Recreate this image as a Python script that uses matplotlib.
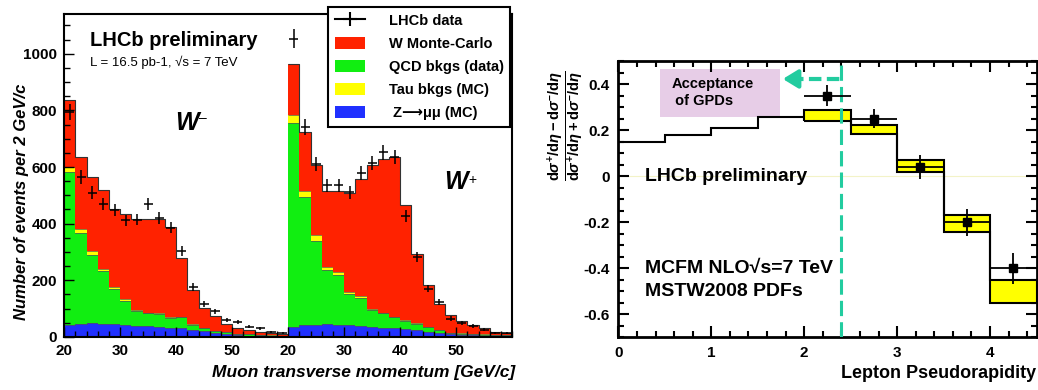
import numpy as np
import matplotlib
matplotlib.use("Agg")
import matplotlib.pyplot as plt
from matplotlib.patches import Rectangle, Patch
from matplotlib.lines import Line2D
from matplotlib.ticker import MultipleLocator, FuncFormatter

plt.rcParams['font.family'] = ['Liberation Sans', 'DejaVu Sans']
plt.rcParams['axes.unicode_minus'] = False
plt.rcParams['mathtext.fontset'] = 'custom'
plt.rcParams['mathtext.rm'] = 'Liberation Sans:bold'
plt.rcParams['mathtext.it'] = 'Liberation Sans:italic:bold'
plt.rcParams['mathtext.bf'] = 'Liberation Sans:bold'

# muon pT bins (GeV/c), 2 GeV wide, same for W- and W+
pt_edges = np.arange(20, 62, 2)

# W- stacked components (events per bin)
wm_z = [44, 46, 48, 47, 45, 42, 40, 38, 36, 33, 30, 25, 20, 15, 10, 7, 5, 4, 3, 2]
wm_qcd = [538, 322, 240, 186, 123, 84, 50, 45, 46, 35, 39, 18, 11, 5, 7, 4, 4, 3, 2, 2]
wm_tau = [18, 12, 14, 8, 8, 7, 4, 3, 3, 2, 2, 2, 2, 1, 1, 1, 1, 1, 1, 1]
wm_w = [237, 255, 262, 279, 277, 302, 324, 332, 333, 318, 208, 122, 71, 52, 27, 21, 14, 10, 8, 7]
wm_data = [794, 564, 509, 470, 449, 412, 414, 470, 421, 386, 303, 176, 115, 90, 59, 52, 36, 31, 17, 13]

# W+ stacked components
wp_z = [35, 41, 44, 45, 44, 42, 40, 37, 33, 30, 27, 23, 19, 15, 11, 8, 6, 4, 3, 2]
wp_qcd = [720, 453, 295, 190, 174, 109, 97, 60, 50, 40, 31, 23, 16, 9, 3, 4, 4, 4, 4, 4]
wp_tau = [27, 23, 22, 12, 11, 8, 7, 3, 3, 2, 2, 2, 1, 1, 1, 1, 1, 1, 1, 1]
wp_w = [182, 206, 247, 270, 288, 349, 415, 506, 543, 565, 405, 246, 146, 90, 62, 43, 30, 21, 10, 7]
wp_data = [1053, 741, 612, 535, 535, 511, 578, 614, 652, 635, 426, 282, 171, 123, 65, 51, 38, 26, 14, 13]

# charge asymmetry vs lepton pseudorapidity
eta_edges = [0, 0.5, 1.0, 1.5, 2.0, 2.5, 3.0, 3.5, 4.0, 4.5]
theory_line = [0.15, 0.178, 0.211, 0.255]          # eta 0 - 2
band_lo = [0.239, 0.185, 0.019, -0.244, -0.55]      # eta 2 - 4.5
band_hi = [0.286, 0.22, 0.069, -0.169, -0.451]
eta_c = [2.25, 2.75, 3.25, 3.75, 4.25]
asym = [0.35, 0.25, 0.04, -0.2, -0.40]
asym_err = [0.044, 0.043, 0.053, 0.058, 0.067]

c_w = '#ff2200'
c_qcd = '#11ee11'
c_tau = '#ffff00'
c_z = '#2030ff'
teal = '#22cc9f'

fig = plt.figure(figsize=(10.38, 3.9), dpi=100)

# ---------------- left: muon pT ----------------
ax = fig.add_axes([0.0619, 0.1359, 0.4316, 0.8282])


def draw_stack(offset, layers, data):
    edges = pt_edges + offset
    base = np.zeros(len(edges) - 1)
    for vals, col in layers:
        top = base + np.array(vals)
        ax.stairs(top, edges, baseline=base, fill=True, color=col, lw=0)
        ax.stairs(top, edges, baseline=None, color='#555555', lw=0.5)
        base = top
    ax.stairs(base, edges, baseline=None, color='#333333', lw=0.8)
    centers = (edges[:-1] + edges[1:]) / 2
    ax.errorbar(centers, data, yerr=np.sqrt(data), xerr=0.8, fmt='none',
                ecolor='k', elinewidth=1.1)


draw_stack(-20, [(wm_z, c_z), (wm_qcd, c_qcd), (wm_tau, c_tau), (wm_w, c_w)], wm_data)
draw_stack(20, [(wp_z, c_z), (wp_qcd, c_qcd), (wp_tau, c_tau), (wp_w, c_w)], wp_data)

ax.set_xlim(0, 80)
ax.set_ylim(0, 1140)
ax.set_xticks([0, 10, 20, 30, 40, 50, 60, 70])
ax.set_xticklabels(['20', '30', '40', '50'] * 2)
ax.xaxis.set_minor_locator(MultipleLocator(2))
ax.set_yticks([0, 200, 400, 600, 800, 1000])
ax.yaxis.set_minor_locator(MultipleLocator(50))
ax.tick_params(direction='in', which='major', length=7, width=1, labelsize=11, pad=5)
ax.tick_params(direction='in', which='minor', length=4, width=1)
for lab in ax.get_xticklabels() + ax.get_yticklabels():
    lab.set_fontweight('bold')
for s in ax.spines.values():
    s.set_linewidth(1.5)

fig.text(90 / 1038, 1 - 40 / 390, 'LHCb preliminary', weight='bold', size=14.5,
         ha='left', va='center')
fig.text(90 / 1038, 1 - 62 / 390, 'L = 16.5 pb-1, \u221as = 7 TeV', size=9.5,
         ha='left', va='center')
fig.text(175 / 1038, 1 - 123 / 390, 'W', weight='bold', style='italic', size=18,
         ha='left', va='center')
fig.text(199 / 1038, 1 - 118 / 390, '\u2013', size=10, ha='left', va='center')
fig.text(444 / 1038, 1 - 182 / 390, 'W', weight='bold', style='italic', size=18,
         ha='left', va='center')
fig.text(468 / 1038, 1 - 180 / 390, '+', size=10, ha='left', va='center')

fig.text(22 / 1038, 1 - 202 / 390, 'Number of events per 2 GeV/c', rotation=90,
         weight='bold', style='italic', size=12, ha='center', va='center')
fig.text(515 / 1038, 1 - 372 / 390, 'Muon transverse momentum [GeV/c]',
         weight='bold', style='italic', size=12.5, ha='right', va='center')

handles = [Line2D([], [], color='k', lw=1.5, marker='+', ms=10, mew=1.5),
           Patch(fc=c_w), Patch(fc=c_qcd), Patch(fc=c_tau), Patch(fc=c_z)]
labels = ['LHCb data', 'W Monte-Carlo', 'QCD bkgs (data)', 'Tau bkgs (MC)',
          ' Z\u27f6\u03bc\u03bc (MC)']
leg = fig.legend(handles, labels, loc='upper left',
                 bbox_to_anchor=(328 / 1038, 1 - 7 / 390), borderaxespad=0,
                 frameon=True, fancybox=False, edgecolor='k', framealpha=1,
                 prop={'weight': 'bold', 'size': 10.5}, handlelength=2.1,
                 handleheight=0.9, labelspacing=0.62, handletextpad=1.6,
                 borderpad=0.45)
leg.get_frame().set_linewidth(1.5)

# ---------------- right: asymmetry ----------------
ax2 = fig.add_axes([0.5957, 0.1351, 0.4029, 0.7085])
ax2.axhline(0, color='#f3f3c8', lw=0.8, zorder=0)
ax2.add_patch(Rectangle((0.45, 0.257), 1.29, 0.21, fc='#e7cde7', ec='none', zorder=1))
ax2.text(0.57, 0.40, 'Acceptance', weight='bold', size=10.5, va='center', zorder=2)
ax2.text(0.57, 0.325, ' of GPDs', weight='bold', size=10.5, va='center', zorder=2)

ax2.stairs(theory_line, eta_edges[:5], baseline=None, color='k', lw=1.5, zorder=3)
ax2.stairs(band_hi, eta_edges[4:], baseline=band_lo, fill=True, facecolor=c_tau,
           edgecolor='k', lw=1.5, zorder=3)
ax2.errorbar(eta_c, asym, xerr=0.25, yerr=asym_err, fmt='s', color='k', ms=5.5,
             elinewidth=1.3, capsize=0, zorder=5)

ax2.axvline(2.4, color=teal, lw=2.2, ls=(0, (5, 2)), zorder=4)
ax2.plot([1.86, 2.4], [0.422, 0.422], color=teal, lw=3, ls=(0, (3, 1.3)), zorder=4)
ax2.annotate('', xy=(1.74, 0.422), xytext=(1.9, 0.422),
             arrowprops=dict(arrowstyle='-|>,head_length=0.9,head_width=0.55',
                             color=teal, lw=3), zorder=4)

ax2.text(0.287, 0.0, 'LHCb preliminary', weight='bold', size=14, va='center')
ax2.text(0.287, -0.40, 'MCFM NLO\u221as=7 TeV', weight='bold', size=14, va='center')
ax2.text(0.287, -0.503, 'MSTW2008 PDFs', weight='bold', size=14, va='center')

ax2.set_xlim(0, 4.5)
ax2.set_ylim(-0.7, 0.5)
ax2.xaxis.set_major_locator(MultipleLocator(1))
ax2.xaxis.set_minor_locator(MultipleLocator(0.2))
ax2.yaxis.set_major_locator(MultipleLocator(0.2))
ax2.yaxis.set_minor_locator(MultipleLocator(0.05))
ax2.yaxis.set_major_formatter(FuncFormatter(lambda v, p: '%g' % round(v, 2)))
ax2.xaxis.set_major_formatter(FuncFormatter(lambda v, p: '%g' % v))
ax2.tick_params(direction='in', which='major', length=8, width=1.5, labelsize=11,
                top=True, right=True, pad=6)
ax2.tick_params(direction='in', which='minor', length=4, width=1.5, top=True, right=True)
for lab in ax2.get_xticklabels() + ax2.get_yticklabels():
    lab.set_fontweight('bold')
for s in ax2.spines.values():
    s.set_linewidth(2)

fig.text(566 / 1038, 1 - 126 / 390,
         r'$\frac{\mathrm{d}\sigma^{+}/\mathrm{d}\eta - \mathrm{d}\sigma^{-}/\mathrm{d}\eta}'
         r'{\mathrm{d}\sigma^{+}/\mathrm{d}\eta + \mathrm{d}\sigma^{-}/\mathrm{d}\eta}$',
         rotation=90, size=15, ha='center', va='center')
fig.text(1036 / 1038, 1 - 373 / 390, 'Lepton Pseudorapidity', weight='bold', size=13,
         ha='right', va='center')

fig.savefig('out.png', dpi=100)
